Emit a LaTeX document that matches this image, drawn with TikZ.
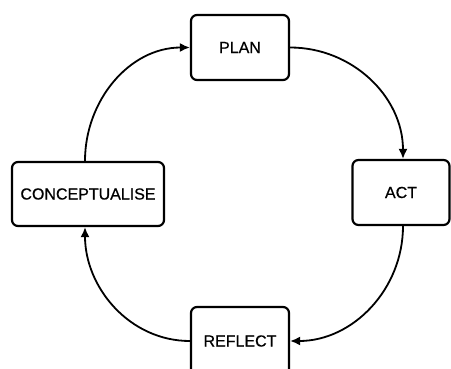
\documentclass[tikz,border=0pt]{standalone}
\usepackage{fontspec}
\setmainfont{Liberation Sans}
\newfontfamily\lblfont[FakeBold=0.6]{Liberation Sans}
\usetikzlibrary{arrows.meta}
\begin{document}
\begin{tikzpicture}[x=1pt,y=-1pt,
  stagebox/.style={draw=black, line width=2.2pt, rounded corners=6pt, fill=white,
    inner sep=0pt, font=\lblfont\fontsize{16}{19}\selectfont},
  flow/.style={line width=1.8pt, -{Latex[length=10pt,width=9pt]}}]
\clip (0,0) rectangle (451,369);
\fill[white] (0,0) rectangle (451,369);
\node[stagebox, minimum width=98pt, minimum height=65pt] (plan) at (240,47.5) {PLAN};
\node[stagebox, minimum width=97pt, minimum height=65pt] (act) at (401,192.5) {ACT};
\node[stagebox, minimum width=98pt, minimum height=68pt] (reflect) at (240,341) {REFLECT};
\node[stagebox, minimum width=152pt, minimum height=64pt] (concept) at (88,194) {CONCEPTUALISE};
\draw[flow] (plan.east) to[out=0,in=90] (act.north -| 403,0);
\draw[flow] (act.south -| 403,0) to[out=-90,in=0] (reflect.east);
\draw[flow] (reflect.west) to[out=180,in=-90] (concept.south -| 85,0);
\draw[flow] (concept.north -| 85,0) to[out=90,in=180] (plan.west);
\end{tikzpicture}
\end{document}
